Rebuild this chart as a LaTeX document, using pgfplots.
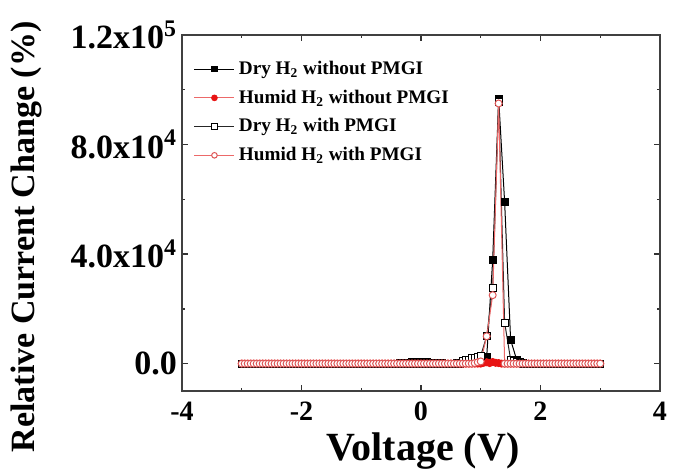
\documentclass[border=0pt]{standalone}
\usepackage{fontspec}
\setmainfont{Liberation Serif}
\usepackage{pgfplots}
\usepackage{pgfplotstable}
\pgfplotsset{compat=1.18}
\definecolor{hred}{RGB}{232,20,20}
\definecolor{hpink}{RGB}{222,85,85}
\definecolor{hline}{RGB}{236,105,105}

\pgfplotstableread{
x a b c d
-3.00 0 0 0 0
-2.95 0 0 0 0
-2.90 0 0 0 0
-2.85 0 0 0 0
-2.80 0 0 0 0
-2.75 0 0 0 0
-2.70 0 0 0 0
-2.65 0 0 0 0
-2.60 0 0 0 0
-2.55 0 0 0 0
-2.50 0 0 0 0
-2.45 0 0 0 0
-2.40 0 0 0 0
-2.35 0 0 0 0
-2.30 0 0 0 0
-2.25 0 0 0 0
-2.20 0 0 0 0
-2.15 0 0 0 0
-2.10 0 0 0 0
-2.05 0 0 0 0
-2.00 0 0 0 0
-1.95 0 0 0 0
-1.90 0 0 0 0
-1.85 0 0 0 0
-1.80 0 0 0 0
-1.75 0 0 0 0
-1.70 0 0 0 0
-1.65 0 0 0 0
-1.60 0 0 0 0
-1.55 0 0 0 0
-1.50 0 0 0 0
-1.45 0 0 0 0
-1.40 0 0 0 0
-1.35 0 0 0 0
-1.30 0 0 0 0
-1.25 0 0 0 0
-1.20 0 0 0 0
-1.15 0 0 0 0
-1.10 0 0 0 0
-1.05 0 0 0 0
-1.00 0 0 0 0
-0.95 0 0 0 0
-0.90 0 0 0 0
-0.85 0 0 0 0
-0.80 0 0 0 0
-0.75 0 0 0 0
-0.70 0 0 0 0
-0.65 0 0 0 0
-0.60 0 0 0 0
-0.55 0 0 0 0
-0.50 0 0 0 0
-0.45 0 0 0 0
-0.40 0 0 0 0
-0.35 200 0 0 0
-0.30 300 0 0 0
-0.25 400 0 0 0
-0.20 400 0 0 0
-0.15 500 0 0 0
-0.10 500 0 0 0
-0.05 500 0 0 0
0.00 600 0 0 0
0.05 500 0 0 0
0.10 500 0 0 0
0.15 400 0 0 0
0.20 400 0 0 0
0.25 300 0 0 0
0.30 200 0 0 0
0.35 100 0 0 0
0.40 0 0 0 0
0.45 0 0 0 0
0.50 0 0 0 0
0.55 0 0 0 0
0.60 0 0 200 0
0.65 0 0 400 0
0.70 100 0 800 0
0.75 200 0 1200 0
0.80 300 0 1500 0
0.85 400 0 1900 0
0.90 500 0 2200 200
0.95 700 0 2500 500
1.00 1000 0 2900 800
1.05 1500 300 nan nan
1.10 2500 500 10000 10000
1.15 nan 200 nan nan
1.20 37800 600 27600 25000
1.25 nan 300 nan nan
1.30 96800 200 95500 95000
1.35 nan 0 nan nan
1.40 59000 0 15000 0
1.45 nan 0 nan 0
1.50 8700 0 1500 0
1.55 nan 0 800 0
1.60 1500 0 500 0
1.65 500 0 300 0
1.70 200 0 0 0
1.75 0 0 0 0
1.80 0 0 0 0
1.85 0 0 0 0
1.90 0 0 0 0
1.95 0 0 0 0
2.00 0 0 0 0
2.05 0 0 0 0
2.10 0 0 0 0
2.15 0 0 0 0
2.20 0 0 0 0
2.25 0 0 0 0
2.30 0 0 0 0
2.35 0 0 0 0
2.40 0 0 0 0
2.45 0 0 0 0
2.50 0 0 0 0
2.55 0 0 0 0
2.60 0 0 0 0
2.65 0 0 0 0
2.70 0 0 0 0
2.75 0 0 0 0
2.80 0 0 0 0
2.85 0 0 0 0
2.90 0 0 0 0
2.95 0 0 0 0
3.00 0 0 0 0
}\data

\begin{document}
\begin{tikzpicture}
\useasboundingbox (-91pt,-41pt) rectangle (249.5pt,195.5pt);
\begin{axis}[
  at={(0pt,0pt)}, anchor=south west,
  scale only axis, width=239pt, height=178pt,
  xmin=-4, xmax=4, ymin=-10000, ymax=120000,
  xtick={-4,-2,0,2,4}, minor xtick={-3,-1,1,3},
  xticklabels={-4,-2,0,2,4},
  ytick={0,40000,80000,120000}, minor ytick={20000,60000,100000},
  yticklabels={0.0, 4.0x10\textsuperscript{4}, 8.0x10\textsuperscript{4}, 1.2x10\textsuperscript{5}},
  scaled y ticks=false,
  tick align=inside, major tick length=3pt, minor tick length=1.6pt,
  axis line style={line width=0.8pt, black!75},
  every tick/.style={black!80, line width=0.7pt},
  xticklabel style={font=\fontsize{14}{14}\selectfont\bfseries, yshift=-2pt},
  yticklabel style={font=\fontsize{17}{17}\selectfont\bfseries, xshift=1pt},
  xlabel={Voltage (V)},
  ylabel={Relative Current Change (\%)},
  xlabel style={font=\fontsize{20}{20}\selectfont\bfseries, at={(axis description cs:0.504,-0.168)}, anchor=center},
  ylabel style={font=\fontsize{17}{17}\selectfont\bfseries, at={(axis description cs:-0.325,0.433)}, anchor=center},
  legend style={at={(axis description cs:0.02,0.945)}, anchor=north west, draw=none, fill=none,
    font=\fontsize{9.6}{10.5}\selectfont\bfseries, row sep=2.2pt, inner sep=1pt},
  legend cell align=left,
  legend image code/.code={\draw[mark repeat=2,mark phase=2,mark size=1.4pt] plot coordinates {(0pt,0pt)(10pt,0pt)(20pt,0pt)};},
]
\addplot[black, line width=0.5pt, mark=square*, mark size=1.75pt, mark options={solid, fill=black}] table[x=x, y=a] {\data};
\addlegendentry{Dry H\textsubscript{2} without PMGI}
\addplot[hline, line width=0.5pt, mark=*, mark size=1.75pt, mark options={solid, draw=hred, fill=hred}] table[x=x, y=b] {\data};
\addlegendentry{Humid H\textsubscript{2} without PMGI}
\addplot[black!85, line width=0.5pt, mark=square*, mark size=1.75pt, mark options={solid, draw=black, fill=white}] table[x=x, y=c] {\data};
\addlegendentry{Dry H\textsubscript{2} with PMGI}
\addplot[hline, line width=0.5pt, mark=*, mark size=1.75pt, mark options={solid, draw=hpink, fill=white}] table[x=x, y=d] {\data};
\addlegendentry{Humid H\textsubscript{2} with PMGI}
\end{axis}
\end{tikzpicture}
\end{document}
